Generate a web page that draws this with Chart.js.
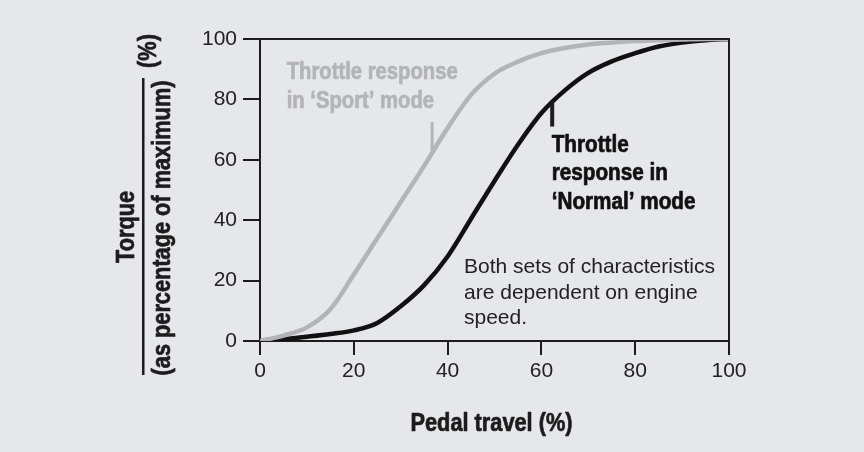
<!DOCTYPE html>
<html>
<head>
    <script src="https://cdn.jsdelivr.net/npm/chart.js@4.4.1/dist/chart.umd.min.js"></script>
    <style>
        html, body { margin: 0; padding: 0; background: #e6e7eb; }
        #wrap { width: 864px; height: 452px; }
    </style>
</head>
<body>
    <div id="wrap"><canvas id="throttleChart" width="864" height="452"></canvas></div>

    <script>
        // pedal travel (%) sample points
        const pedalTravel = [0, 5, 10, 15, 20, 25, 30, 35, 40, 45, 50, 55, 60, 65, 70, 75, 80, 85, 90, 95, 100];
        // torque (% of max)
        const sportTorque = [0, 1.8, 4.5, 10.5, 22, 34, 46, 58, 70.5, 81.5, 88.5, 92.5, 95.3, 97, 98.2, 98.8, 99.3, 99.6, 99.8, 100, 100];
        const normalTorque = [0, 0.6, 1.4, 2.3, 3.5, 6, 11.5, 18.5, 28, 40.5, 53, 65, 75.5, 83, 88.8, 92.6, 95.3, 97.5, 98.8, 99.6, 100];
        const tickValues = [0, 20, 40, 60, 80, 100];

        const sportLabel = ['Throttle response', 'in \u2018Sport\u2019 mode'];
        const normalLabel = ['Throttle', 'response in', '\u2018Normal\u2019 mode'];
        const noteLabel = ['Both sets of characteristics', 'are dependent on engine', 'speed.'];

        const GREY = '#b2b4b7';
        const INK = '#1c1c1c';
        const plain = "'Liberation Sans', Arial, sans-serif";

        const toPoints = (ys) => pedalTravel.map((x, i) => ({ x: x, y: ys[i] }));

        // no condensed heavy face installed, so squeeze Liberation Sans Bold and thicken it a bit
        function squeezed(ctx, text, x, y, size, squeeze, rotate) {
            ctx.save();
            ctx.translate(x, y);
            if (rotate) ctx.rotate(-Math.PI / 2);
            ctx.scale(squeeze, 1);
            ctx.font = 'bold ' + size + 'px ' + plain;
            ctx.strokeStyle = ctx.fillStyle;
            ctx.lineWidth = 0.7;
            ctx.lineJoin = 'round';
            ctx.fillText(text, 0, 0);
            ctx.strokeText(text, 0, 0);
            ctx.restore();
        }

        const decorations = {
            id: 'decorations',
            afterDraw(chart) {
                const { ctx, chartArea: a, scales: { x, y } } = chart;
                ctx.save();

                // top and right edges of the box
                ctx.strokeStyle = INK;
                ctx.lineWidth = 2;
                ctx.beginPath();
                ctx.moveTo(a.left, a.top);
                ctx.lineTo(a.right, a.top);
                ctx.lineTo(a.right, a.bottom);
                ctx.stroke();

                // axis titles
                ctx.fillStyle = INK;
                ctx.textAlign = 'center';
                ctx.textBaseline = 'middle';
                squeezed(ctx, 'Pedal travel (%)', (a.left + a.right) / 2 - 3, 424, 25, 0.87);
                squeezed(ctx, 'Torque', 127, 227, 25, 0.87, true);
                squeezed(ctx, '(as percentage of maximum)', 163, 228, 25, 0.87, true);
                squeezed(ctx, '(%)', 149, 51, 25, 0.87, true);
                ctx.fillRect(142, 78, 2.5, 297);

                // pointer ticks
                ctx.strokeStyle = GREY;
                ctx.lineWidth = 3;
                ctx.beginPath();
                ctx.moveTo(x.getPixelForValue(36.7), y.getPixelForValue(72.5));
                ctx.lineTo(x.getPixelForValue(36.7), y.getPixelForValue(62));
                ctx.stroke();
                ctx.strokeStyle = INK;
                ctx.lineWidth = 4;
                ctx.beginPath();
                ctx.moveTo(x.getPixelForValue(62.3), y.getPixelForValue(79.5));
                ctx.lineTo(x.getPixelForValue(62.3), y.getPixelForValue(71));
                ctx.stroke();

                // labels
                ctx.textAlign = 'left';
                ctx.textBaseline = 'alphabetic';
                ctx.fillStyle = GREY;
                sportLabel.forEach((t, i) => squeezed(ctx, t, x.getPixelForValue(5.7), y.getPixelForValue(86.7) + i * 29, 23, 0.88));
                ctx.fillStyle = '#111';
                normalLabel.forEach((t, i) => squeezed(ctx, t, x.getPixelForValue(62.2), y.getPixelForValue(62.7) + i * 28.5, 23, 0.9));
                ctx.font = '21px ' + plain;
                ctx.fillStyle = '#222';
                noteLabel.forEach((t, i) => ctx.fillText(t, x.getPixelForValue(43.5), y.getPixelForValue(22.5) + i * 25.5));

                ctx.restore();
            }
        };

        const axisStyle = {
            type: 'linear',
            min: 0,
            max: 100,
            border: { display: true, color: INK, width: 2 },
            grid: { drawOnChartArea: false, drawTicks: true, color: INK, lineWidth: 2 },
            afterBuildTicks: (scale) => { scale.ticks = tickValues.map(v => ({ value: v })); }
        };

        new Chart(document.getElementById('throttleChart'), {
            type: 'line',
            data: {
                datasets: [{
                    label: 'Sport',
                    data: toPoints(sportTorque),
                    borderColor: GREY,
                    borderWidth: 4.5,
                    cubicInterpolationMode: 'monotone',
                    pointRadius: 0
                }, {
                    label: 'Normal',
                    data: toPoints(normalTorque),
                    borderColor: '#111',
                    borderWidth: 4.5,
                    cubicInterpolationMode: 'monotone',
                    pointRadius: 0
                }]
            },
            options: {
                responsive: false,
                animation: false,
                layout: { padding: { top: 39, right: 135, left: 0, bottom: 0 } },
                plugins: { legend: { display: false }, tooltip: { enabled: false } },
                scales: {
                    x: {
                        ...axisStyle,
                        grid: { ...axisStyle.grid, tickLength: 14 },
                        ticks: { color: '#222', padding: 4, maxRotation: 0, font: { family: plain, size: 21 } },
                        afterFit: (scale) => { scale.height = 111; }
                    },
                    y: {
                        ...axisStyle,
                        grid: { ...axisStyle.grid, tickLength: 17 },
                        ticks: { color: '#222', padding: 6, font: { family: plain, size: 21 } },
                        afterFit: (scale) => { scale.width = 260; }
                    }
                }
            },
            plugins: [decorations]
        });
    </script>
</body>
</html>
